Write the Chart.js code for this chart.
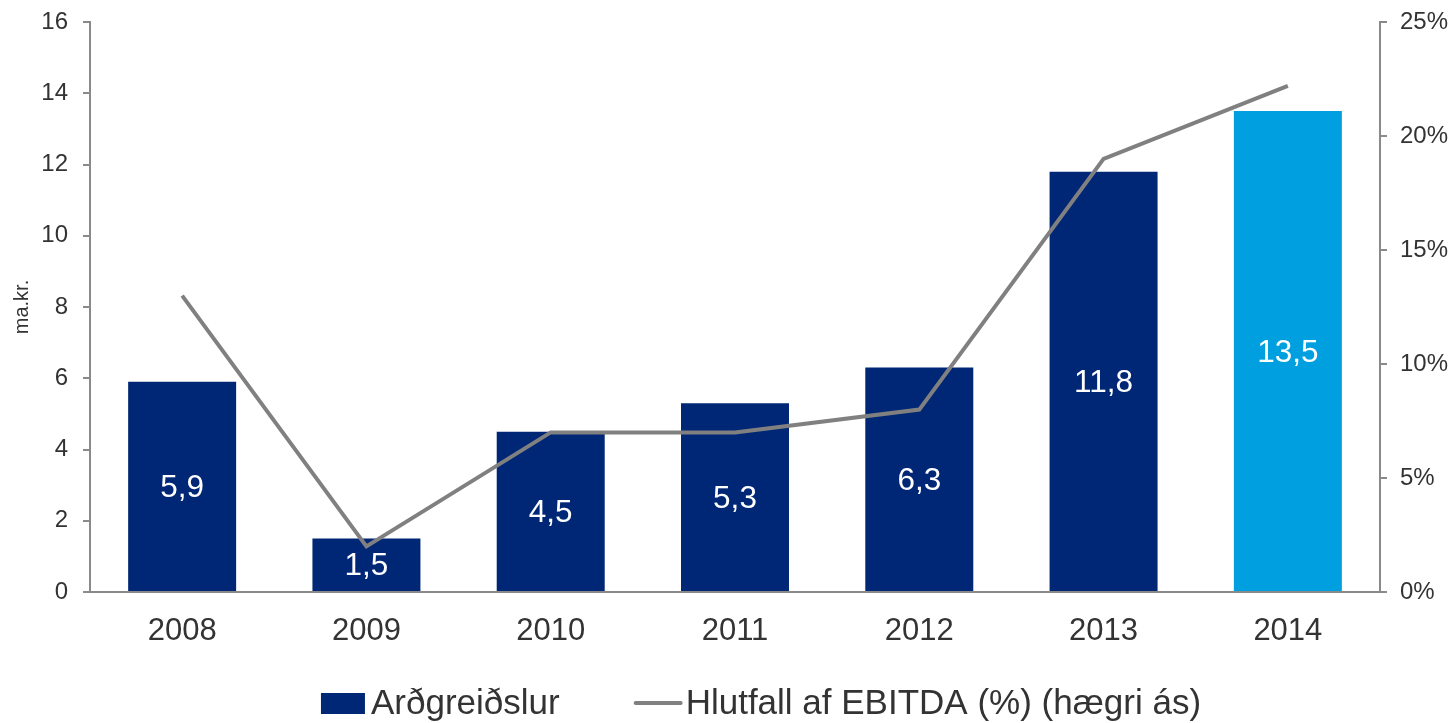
<!DOCTYPE html>
<html>
<head>
<meta charset="utf-8">
<script src="https://cdn.jsdelivr.net/npm/chart.js@4.4.1/dist/chart.umd.min.js"></script>
<style>
  html, body { margin: 0; padding: 0; background: #fff; }
  #wrap { width: 1448px; height: 723px; position: relative; }
</style>
</head>
<body>
<div id="wrap"><canvas id="divChart" width="1448" height="723"></canvas></div>
<script>
const years = ['2008', '2009', '2010', '2011', '2012', '2013', '2014'];
const payouts = [5.9, 1.5, 4.5, 5.3, 6.3, 11.8, 13.5];
const ebitdaShare = [13, 2, 7, 7, 8, 19, 22.2];
const barColors = ['#002776', '#002776', '#002776', '#002776', '#002776', '#002776', '#009fdf'];
const seriesNames = ['Arðgreiðslur', 'Hlutfall af EBITDA (%) (hægri ás)'];

const FONT = '"Liberation Sans", Arial, sans-serif';
const axisGrey = '#8a8a8a';
const textGrey = '#333333';

// white value labels in the middle of each bar
const barLabels = {
  id: 'barLabels',
  afterDatasetDraw(chart, args) {
    if (args.meta.type !== 'bar') return;
    const c = chart.ctx;
    c.save();
    c.font = '31.5px ' + FONT;
    c.fillStyle = '#ffffff';
    c.textAlign = 'center';
    c.textBaseline = 'middle';
    args.meta.data.forEach((bar, i) => {
      const v = chart.data.datasets[args.index].data[i];
      c.fillText(v.toFixed(1).replace('.', ','), bar.x, (bar.y + bar.base) / 2 + 2);
    });
    c.restore();
  }
};

// legend drawn below the axis
const bottomLegend = {
  id: 'bottomLegend',
  afterDraw(chart) {
    const c = chart.ctx;
    const bars = chart.data.datasets.find(d => d.type === 'bar');
    const line = chart.data.datasets.find(d => d.type === 'line');
    c.save();
    c.font = '35px ' + FONT;
    c.textBaseline = 'middle';
    const y = 704;
    const boxW = 44, lineW = 45, gap = 76;
    const w0 = boxW + 6 + c.measureText(bars.label).width;
    const w1 = lineW + 5 + c.measureText(line.label).width;
    let x = 761 - (w0 + gap + w1) / 2;
    c.fillStyle = bars.backgroundColor[0];
    c.fillRect(x, y - 11, boxW, 21);
    c.fillStyle = textGrey;
    c.fillText(bars.label, x + boxW + 6, y);
    x += w0 + gap;
    c.strokeStyle = line.borderColor;
    c.lineWidth = 4;
    c.lineCap = 'round';
    c.beginPath();
    c.moveTo(x, y - 1);
    c.lineTo(x + lineW, y - 1);
    c.stroke();
    c.fillText(line.label, x + lineW + 5, y);
    c.restore();
  }
};

const ctx = document.getElementById('divChart').getContext('2d');
const divChart = new Chart(ctx, {
  type: 'bar',
  data: {
    labels: years,
    datasets: [
      {
        type: 'line',
        label: seriesNames[1],
        data: ebitdaShare,
        yAxisID: 'y1',
        borderColor: '#808080',
        borderWidth: 4,
        pointRadius: 0,
        tension: 0,
        order: 0
      },
      {
        type: 'bar',
        label: seriesNames[0],
        data: payouts,
        yAxisID: 'y',
        backgroundColor: barColors,
        borderWidth: 0,
        categoryPercentage: 1,
        barPercentage: 0.586,
        order: 1
      }
    ]
  },
  options: {
    responsive: false,
    animation: false,
    layout: { padding: { top: 22, right: 0, bottom: 60, left: 0 } },
    plugins: {
      legend: { display: false },
      tooltip: { enabled: false }
    },
    scales: {
      x: {
        grid: { display: false },
        border: { display: true, color: axisGrey, width: 2 },
        ticks: { color: textGrey, font: { family: FONT, size: 31 }, padding: 13 },
        afterFit(s) { s.height = 723 - 60 - 592; }
      },
      y: {
        position: 'left',
        min: 0,
        max: 16,
        ticks: { stepSize: 2, color: textGrey, font: { family: FONT, size: 24 }, padding: 15 },
        grid: { drawOnChartArea: false, drawTicks: true, tickLength: 7, color: axisGrey, lineWidth: 2 },
        border: { display: true, color: axisGrey, width: 2 },
        title: { display: true, text: 'ma.kr.', color: textGrey, font: { family: FONT, size: 20 }, padding: { top: 10, bottom: 0 } },
        afterFit(s) { s.width = 90; s.paddingTop = 0; s.paddingBottom = 0; }
      },
      y1: {
        position: 'right',
        min: 0,
        max: 25,
        ticks: { stepSize: 5, color: textGrey, font: { family: FONT, size: 24 }, padding: 13, callback: v => v + '%' },
        grid: { drawOnChartArea: false, drawTicks: true, tickLength: 7, color: axisGrey, lineWidth: 2 },
        border: { display: true, color: axisGrey, width: 2 },
        afterFit(s) { s.width = 68; s.paddingTop = 0; s.paddingBottom = 0; }
      }
    }
  },
  plugins: [barLabels, bottomLegend]
});
</script>
</body>
</html>
